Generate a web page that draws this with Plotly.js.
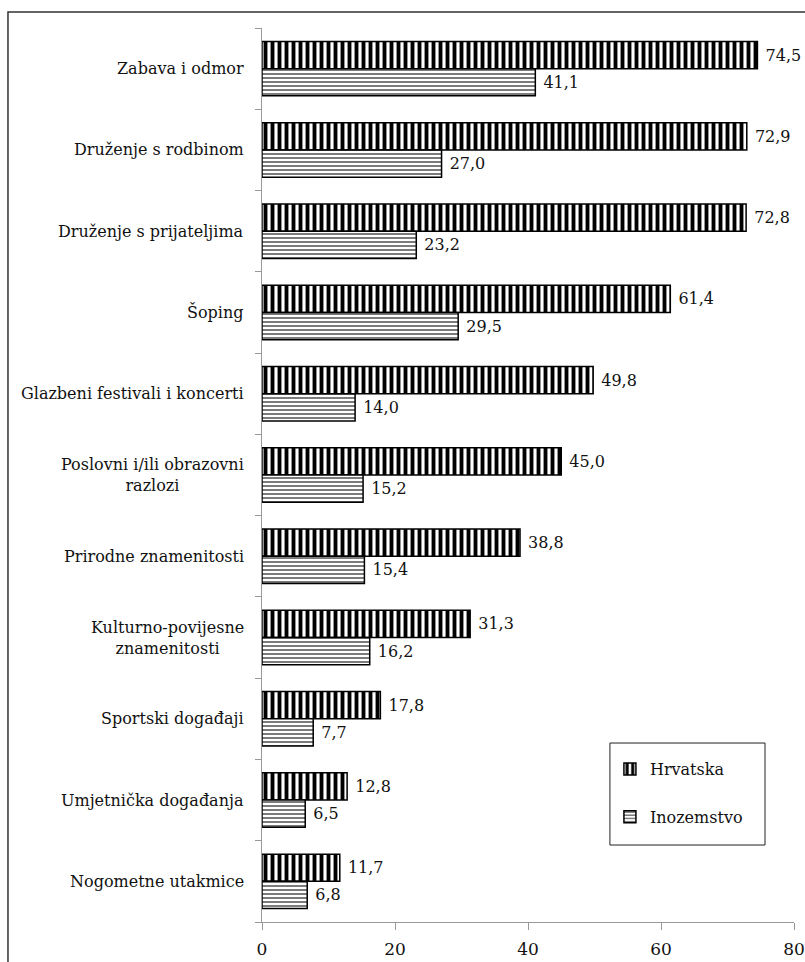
<!DOCTYPE html>
<html>
<head>
<meta charset="utf-8">
<script src="https://cdn.plot.ly/plotly-3.0.1.min.js"></script>
<style>
  html, body { margin: 0; padding: 0; background: #ffffff; }
  #chart { width: 805px; height: 962px; }
</style>
</head>
<body>
<div id="chart"></div>
<script>
// Categories (top to bottom)
const categories = [
  "Zabava i odmor",
  "Druženje s rodbinom",
  "Druženje s prijateljima",
  "Šoping",
  "Glazbeni festivali i koncerti",
  "Poslovni i/ili obrazovni<br>razlozi",
  "Prirodne znamenitosti",
  "Kulturno-povijesne<br>znamenitosti",
  "Sportski događaji",
  "Umjetnička događanja",
  "Nogometne utakmice"
];
const hrvatska = [74.5, 72.9, 72.8, 61.4, 49.8, 45.0, 38.8, 31.3, 17.8, 12.8, 11.7];
const inozemstvo = [41.1, 27.0, 23.2, 29.5, 14.0, 15.2, 15.4, 16.2, 7.7, 6.5, 6.8];
const seriesNames = ["Hrvatska", "Inozemstvo"];
const xTicks = [0, 20, 40, 60, 80];

const FONT = "DejaVu Serif";
const FS = 16;
const catIdx = categories.map((c, i) => i);

const traces = [
  {
    type: "bar", orientation: "h", name: seriesNames[0], legendgroup: "a",
    y: catIdx, x: hrvatska,
    texttemplate: " %{x:.1f}", textposition: "outside", cliponaxis: false,
    textfont: { family: FONT, size: FS, color: "#111" },
    marker: {
      color: "#ffffff",
      line: { color: "#000", width: 1.5 },
      pattern: { shape: "|", fgcolor: "#000", bgcolor: "#fff", size: 7, solidity: 0.55, fillmode: "replace" }
    },
    hoverinfo: "skip"
  },
  {
    type: "bar", orientation: "h", name: seriesNames[1], legendgroup: "b",
    y: catIdx, x: inozemstvo,
    texttemplate: " %{x:.1f}", textposition: "outside", cliponaxis: false,
    textfont: { family: FONT, size: FS, color: "#111" },
    marker: {
      color: "#ffffff",
      line: { color: "#000", width: 1.5 },
      pattern: { shape: "-", fgcolor: "#5a5a5a", bgcolor: "#fff", size: 4, solidity: 0.4, fillmode: "replace" }
    },
    hoverinfo: "skip"
  }
];

const annotations = categories.map((c, i) => ({
  text: c, xref: "paper", yref: "y", x: -0.03, y: i,
  xanchor: "right", yanchor: "middle", align: "center", showarrow: false,
  font: { family: FONT, size: FS, color: "#111" }
}));

const layout = {
  width: 805, height: 962,
  margin: { l: 262, r: 11, t: 28, b: 40, pad: 0 },
  paper_bgcolor: "#fff", plot_bgcolor: "#fff",
  separators: ",.",
  font: { family: FONT, size: FS, color: "#111" },
  barmode: "group", bargap: 0.33, bargroupgap: 0,
  showlegend: true,
  legend: {
    x: 0.654, y: 0.19, xanchor: "left", yanchor: "top",
    bgcolor: "rgba(0,0,0,0)", borderwidth: 0,
    traceorder: "grouped", tracegroupgap: 24,
    font: { family: FONT, size: FS, color: "#111" }
  },
  xaxis: {
    range: [0, 80], tickvals: xTicks, ticktext: xTicks.map(String),
    showgrid: false, zeroline: false,
    showline: true, linecolor: "#999", linewidth: 1,
    ticks: "outside", ticklen: 7, tickcolor: "#999",
    ticklabelstandoff: 5,
    tickfont: { family: FONT, size: 17, color: "#111" },
    fixedrange: true
  },
  yaxis: {
    type: "linear", range: [10.5, -0.5],
    tickvals: catIdx.map(i => i - 0.5).concat([10.5]),
    showticklabels: false,
    showgrid: false, zeroline: false,
    showline: true, linecolor: "#999", linewidth: 1,
    ticks: "outside", ticklen: 6, tickcolor: "#999",
    fixedrange: true
  },
  annotations: annotations,
  shapes: [
    {
      type: "rect", xref: "paper", yref: "paper",
      x0: -0.4775, x1: 1.03, y0: -0.06, y1: 1.018,
      line: { color: "#333", width: 1.5 }, fillcolor: "rgba(0,0,0,0)", layer: "below"
    },
    {
      type: "rect", xref: "paper", yref: "paper",
      x0: 0.654, x1: 0.9455, y0: 0.0861, y1: 0.2002,
      line: { color: "#222", width: 1 }, fillcolor: "#fff", layer: "above"
    }
  ]
};

Plotly.newPlot("chart", traces, layout, { displayModeBar: false, staticPlot: true });
</script>
</body>
</html>
